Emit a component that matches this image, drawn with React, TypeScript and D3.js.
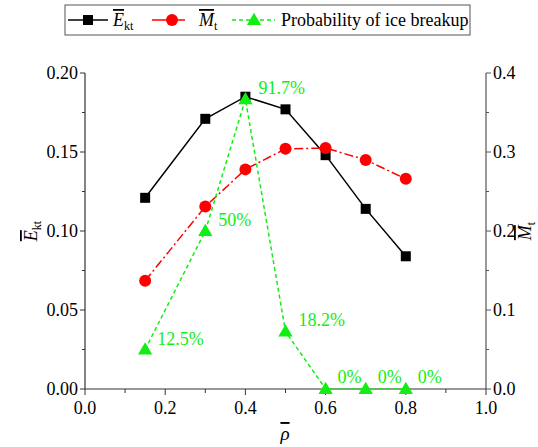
import React from "react";
import * as d3 from "d3";

const rho = [0.15, 0.3, 0.4, 0.5, 0.6, 0.7, 0.8];
const eKt = [0.121, 0.171, 0.185, 0.177, 0.148, 0.114, 0.084];
const mT = [0.137, 0.231, 0.278, 0.304, 0.305, 0.29, 0.266];
const prob = [0.125, 0.5, 0.917, 0.182, 0, 0, 0];
const probLabels = ["12.5%", "50%", "91.7%", "18.2%", "0%", "0%", "0%"];
const xTicks = [0, 0.2, 0.4, 0.6, 0.8, 1.0];
const yLeftTicks = [0, 0.05, 0.1, 0.15, 0.2];
const yRightTicks = [0, 0.1, 0.2, 0.3, 0.4];

const W = 538, H = 447;
const FONT = "Liberation Serif";
const GREEN = "#11ee11";
const fs = (size: number) => ({ fontFamily: FONT, fontSize: size + "px" });

export default function App() {
  const x = d3.scaleLinear().domain([0, 1]).range([85, 486]);
  const yL = d3.scaleLinear().domain([0, 0.2]).range([389, 73]);
  const yR = d3.scaleLinear().domain([0, 0.4]).range([389, 73]);
  // probability plotted as fraction * 0.4 on right axis
  const yProb = (p: number) => yR(p * 0.4);

  const lineE = d3.line<number>().x((_, i) => x(rho[i])).y((d) => yL(d));
  const lineM = d3.line<number>().x((_, i) => x(rho[i])).y((d) => yR(d));
  const lineP = d3.line<number>().x((_, i) => x(rho[i])).y((d) => yProb(d));

  const xMinor = d3.range(0, 1.0001, 0.1);
  const yLMinor = d3.range(0, 0.2001, 0.025);
  const yRMinor = d3.range(0, 0.4001, 0.05);
  const axisColor = "#333";
  const tri = d3.symbol().type(d3.symbolTriangle).size(88)();

  const labelOffsets: [number, number][] = [
    [12, -5], [13, -5], [13, -5], [13, -5], [12, -6], [12, -6], [12, -6],
  ];
  const ov = { textDecoration: "overline", fontStyle: "italic" } as React.CSSProperties;

  return (
    <svg width={W} height={H} style={{ position: "absolute", left: 0, top: 0, background: "#fff", fontFamily: FONT }}>
      {/* Legend */}
      <rect x={65} y={5} width={405} height={30} fill="#fff" stroke="#555" strokeWidth={1} />
      <line x1={68} x2={108} y1={20} y2={20} stroke="#000" strokeWidth={1.5} />
      <rect x={83} y={15} width={10} height={10} fill="#000" />
      <text x={113} y={26} style={fs(18)}>
        <tspan style={ov}>E</tspan>
        <tspan style={{ fontSize: "12px" }} dy={4}>kt</tspan>
      </text>
      <line x1={152} x2={185} y1={20} y2={20} stroke="#ff0000" strokeWidth={1.5} />
      <circle cx={172} cy={20} r={6} fill="#ff0000" />
      <text x={199} y={26} style={fs(18)}>
        <tspan style={ov}>M</tspan>
        <tspan style={{ fontSize: "12px" }} dy={4}>t</tspan>
      </text>
      <line x1={232} x2={275} y1={20} y2={20} stroke={GREEN} strokeWidth={1.5} strokeDasharray="4,3" />
      <path d={tri!} transform="translate(254,21)" fill={GREEN} />
      <text x={281} y={26} style={fs(18)}>Probability of ice breakup</text>

      {/* Axes */}
      <line x1={85} x2={486} y1={389} y2={389} stroke={axisColor} strokeWidth={1.2} />
      <line x1={85} x2={85} y1={73} y2={389} stroke={axisColor} strokeWidth={1.2} />
      <line x1={486} x2={486} y1={73} y2={389} stroke="#555" strokeWidth={1.2} />
      {xMinor.map((t, i) => (
        <line key={"xm" + i} x1={x(t)} x2={x(t)} y1={389} y2={i % 2 === 0 ? 395 : 393} stroke={axisColor} />
      ))}
      {xTicks.map((t) => (
        <text key={"xt" + t} x={x(t)} y={414} style={fs(18)} textAnchor="middle">{t.toFixed(1)}</text>
      ))}
      {yLMinor.map((t, i) => (
        <line key={"ylm" + i} x1={85} x2={i % 2 === 0 ? 80 : 82} y1={yL(t)} y2={yL(t)} stroke={axisColor} />
      ))}
      {yLeftTicks.map((t) => (
        <text key={"ylt" + t} x={78} y={yL(t) + 6} style={fs(18)} textAnchor="end">{t.toFixed(2)}</text>
      ))}
      {yRMinor.map((t, i) => (
        <line key={"yrm" + i} x1={486} x2={i % 2 === 0 ? 491 : 489} y1={yR(t)} y2={yR(t)} stroke="#555" />
      ))}
      {yRightTicks.map((t) => (
        <text key={"yrt" + t} x={493} y={yR(t) + 6} style={fs(18)} textAnchor="start">{t.toFixed(1)}</text>
      ))}

      {/* Axis titles */}
      <text transform="translate(37,231) rotate(-90)" style={fs(18)} textAnchor="middle">
        <tspan style={ov}>E</tspan>
        <tspan style={{ fontSize: "12px" }} dy={4}>kt</tspan>
      </text>
      <text transform="translate(531,231) rotate(-90)" style={fs(18)} textAnchor="middle">
        <tspan style={ov}>M</tspan>
        <tspan style={{ fontSize: "12px" }} dy={4}>t</tspan>
      </text>
      <text x={285} y={440} style={{ ...fs(19), ...ov }} textAnchor="middle">ρ</text>

      {/* Series E */}
      <path d={lineE(eKt)!} fill="none" stroke="#000" strokeWidth={1.5} />
      {eKt.map((d, i) => (
        <rect key={"e" + i} x={x(rho[i]) - 5} y={yL(d) - 5} width={10} height={10} fill="#000" />
      ))}
      {/* Series M */}
      <path d={lineM(mT)!} fill="none" stroke="#ff0000" strokeWidth={1.5} strokeDasharray="9,3,2,3" />
      {mT.map((d, i) => (
        <circle key={"m" + i} cx={x(rho[i])} cy={yR(d)} r={6} fill="#ff0000" />
      ))}
      {/* Probability */}
      <path d={lineP(prob)!} fill="none" stroke={GREEN} strokeWidth={1.5} strokeDasharray="4,3" />
      {prob.map((d, i) => (
        <path key={"p" + i} d={tri!} transform={`translate(${x(rho[i])},${yProb(d) + 1})`} fill={GREEN} />
      ))}
      {prob.map((d, i) => (
        <text key={"pl" + i} x={x(rho[i]) + labelOffsets[i][0]} y={yProb(d) + labelOffsets[i][1]} style={fs(18)} fill={GREEN}>
          {probLabels[i]}
        </text>
      ))}
    </svg>
  );
}
